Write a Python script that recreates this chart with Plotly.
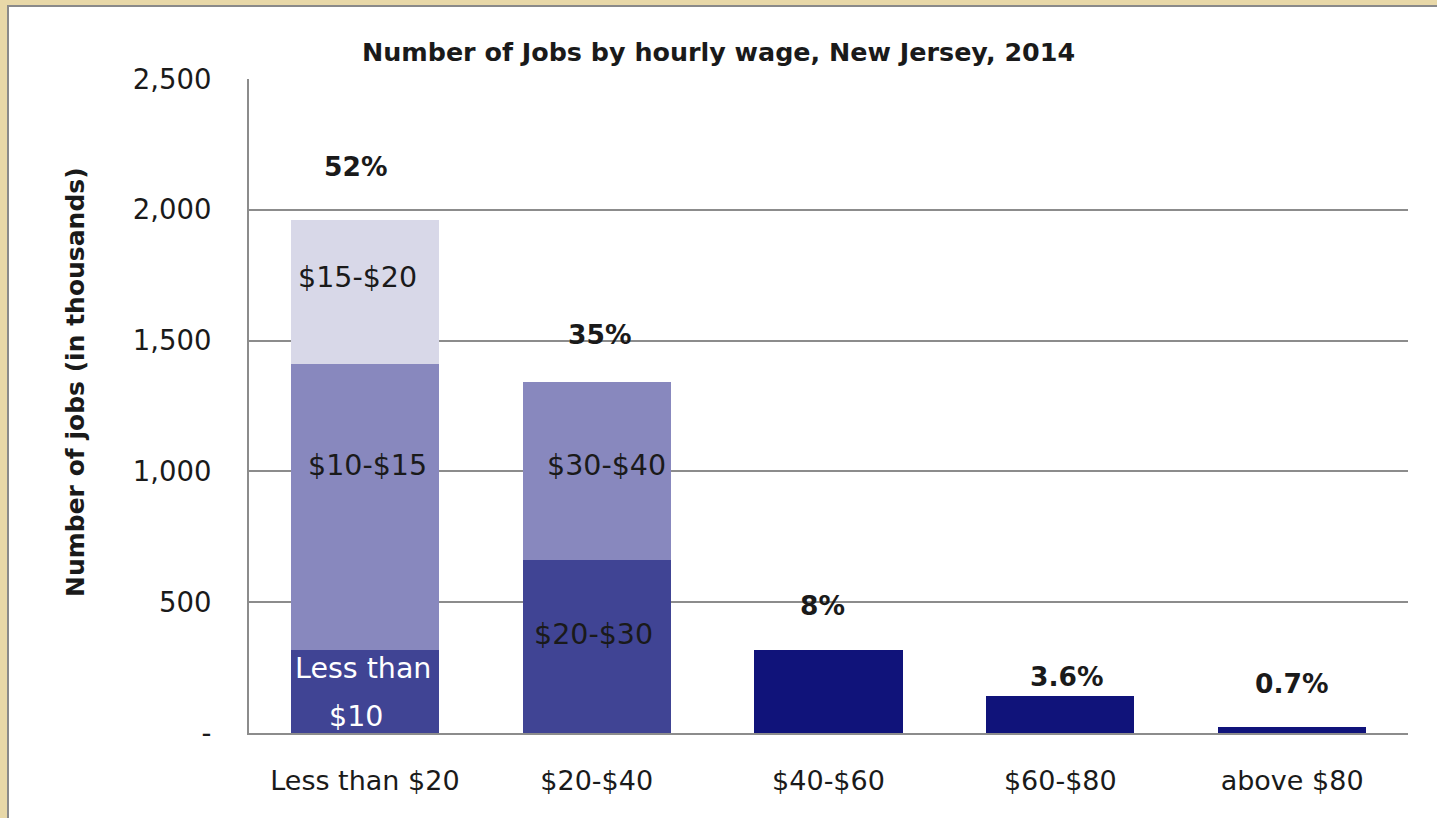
import plotly.graph_objects as go

# ---- data ----
categories = ["Less than $20", "$20-$40", "$40-$60", "$60-$80", "above $80"]
bottom_vals = [317, 661, 317, 141, 23]      # Less than $10 / $20-$30 / full bars
middle_vals = [1094, 681, 0, 0, 0]          # $10-$15 / $30-$40
top_vals = [551, 0, 0, 0, 0]                # $15-$20
pct_labels = ["52%", "35%", "8%", "3.6%", "0.7%"]
y_tickvals = [0, 500, 1000, 1500, 2000, 2500]
y_ticktext = ["-", "500", "1,000", "1,500", "2,000", "2,500"]

# segment labels: (category, text, y in data units, colour, xshift)
seg_labels = [
    ("Less than $20", "$15-$20", 1743, "#1a1a1a", -7),
    ("Less than $20", "$10-$15", 1024, "#1a1a1a", 3),
    ("Less than $20", "Less than", 247, "white", -2),
    ("Less than $20", "$10", 65, "white", -9),
    ("$20-$40", "$30-$40", 1021, "#1a1a1a", 10),
    ("$20-$40", "$20-$30", 375, "#1a1a1a", -3),
]
pct_yshift = [53, 47, 45, 20, 43]
pct_xshift = [-9, 3, -6, 7, 0]

FONT = "DejaVu Sans"
bottom_colors = ["#404494", "#404494", "#10137A", "#10137A", "#10137A"]

fig = go.Figure()
fig.add_bar(x=categories, y=bottom_vals, marker=dict(color=bottom_colors, line=dict(width=0)))
fig.add_bar(x=categories, y=middle_vals, marker=dict(color="#8888BE", line=dict(width=0)))
fig.add_bar(x=categories, y=top_vals, marker=dict(color="#D8D8E8", line=dict(width=0)))

totals = [a + b + c for a, b, c in zip(bottom_vals, middle_vals, top_vals)]
for cat, lab, tot, ys, xs in zip(categories, pct_labels, totals, pct_yshift, pct_xshift):
    fig.add_annotation(x=cat, y=tot, text="<b>%s</b>" % lab, showarrow=False,
                       yanchor="middle", yshift=ys, xshift=xs,
                       font=dict(family=FONT, size=26.5, color="#1a1a1a"))
for cat, txt, yv, col, xs in seg_labels:
    fig.add_annotation(x=cat, y=yv, text=txt, showarrow=False, xshift=xs,
                       font=dict(family=FONT, size=28.5, color=col))

W, H = 1437, 818
L, R, T, B = 249, 29, 79, 85
pw, ph = W - L - R, H - T - B

# y-axis title (placed as in the reference, slightly above plot centre)
fig.add_annotation(xref="paper", yref="paper", x=(75 - L) / pw, y=(H - B - 382) / ph,
                   xanchor="center", yanchor="middle", textangle=-90, showarrow=False,
                   text="<b>Number of jobs (in thousands)</b>",
                   font=dict(family=FONT, size=25, color="#1a1a1a"))

# beige frame + white panel with grey edge
fig.add_shape(type="rect", xref="paper", yref="paper", layer="below",
              x0=(8 - L) / pw, x1=(W + 20 - L) / pw,
              y0=-(H + 20 - T - ph) / ph, y1=(H - 6 - B) / ph,
              fillcolor="white", line=dict(color="#8a8a8a", width=2))

fig.update_layout(
    width=W, height=H, barmode="stack", bargap=0.36, showlegend=False,
    paper_bgcolor="#E8D8A8", plot_bgcolor="rgba(0,0,0,0)",
    margin=dict(l=L, r=R, t=T, b=B),
    font=dict(family=FONT, color="#1a1a1a"),
    title=dict(text="<b>Number of Jobs by hourly wage, New Jersey, 2014</b>",
               x=0.5, xanchor="center", y=1 - 52 / H, yanchor="middle",
               font=dict(family=FONT, size=25.4, color="#1a1a1a")),
    xaxis=dict(showline=True, linecolor="#8c8c8c", linewidth=2, ticks="",
               tickfont=dict(family=FONT, size=27, color="#1a1a1a"),
               ticklabelstandoff=23),
    yaxis=dict(range=[0, 2500], tickvals=y_tickvals, ticktext=y_ticktext,
               showline=True, linecolor="#8c8c8c", linewidth=2,
               showgrid=True, gridcolor="#8c8c8c", gridwidth=2,
               zeroline=False, ticks="",
               tickfont=dict(family=FONT, size=27.5, color="#1a1a1a"),
               ticklabelstandoff=30),
)

fig.write_html("out.html", config={"displayModeBar": False},
               post_script="document.body.style.margin='0';")
